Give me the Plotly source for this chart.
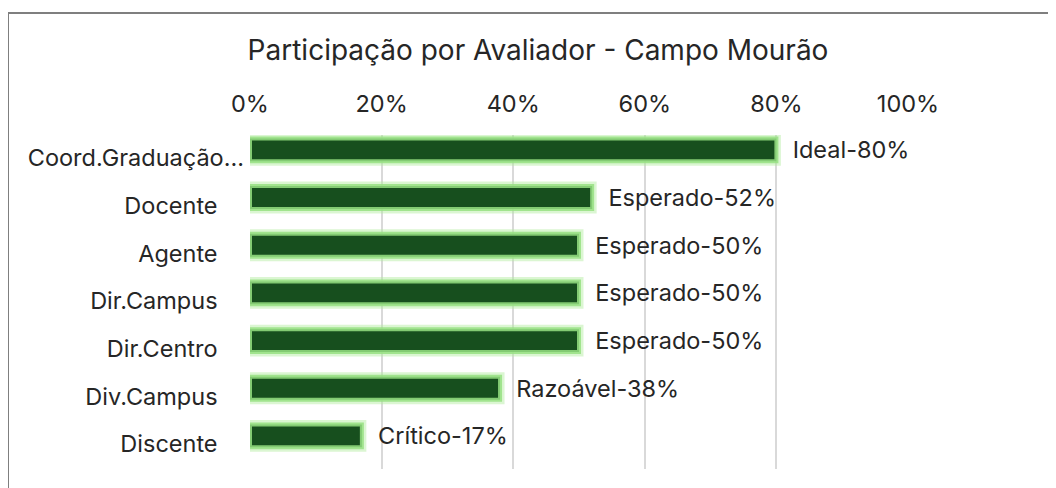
import plotly.graph_objects as go

categories = ["Coord.Graduação...", "Docente", "Agente", "Dir.Campus", "Dir.Centro", "Div.Campus", "Discente"]
values = [0.80, 0.52, 0.50, 0.50, 0.50, 0.38, 0.17]
labels = ["Ideal-80%", "Esperado-52%", "Esperado-50%", "Esperado-50%", "Esperado-50%", "Razoável-38%", "Crítico-17%"]
x_ticks = [0, 0.2, 0.4, 0.6, 0.8, 1.0]
title = "Participação por Avaliador - Campo Mourão"

FONT = "Inter"
NB = "\u00a0"
ticktext = [categories[0]] + [c + NB * 4 for c in categories[1:]]

# page is offset by the 8px body margin
OFF = 8
PL, PR, PT, PB = 250 - OFF, 908 - OFF, 135 - OFF, 469 - OFF
W, H = 1056, 488
PW, PH = PR - PL, PB - PT

BW = 0.48            # bar thickness (category units)
SHIFT = 0.17         # bars sit slightly above the category centre
BOFF = -BW / 2 - SHIFT

fig = go.Figure()
# soft outer glow
fig.add_trace(go.Bar(
    y=categories, x=values, orientation="h", width=BW, offset=BOFF,
    marker=dict(color="rgba(0,0,0,0)", line=dict(color="rgba(175,235,155,0.45)", width=9)),
    hoverinfo="skip",
))
# main bars
fig.add_trace(go.Bar(
    y=categories, x=values, orientation="h", width=BW, offset=BOFF,
    marker=dict(color="#174f1e", line=dict(color="rgba(150,225,130,0.85)", width=4)),
    text=[NB * 2 + t for t in labels], textposition="outside", cliponaxis=False,
    constraintext="none",
    textfont=dict(family=FONT, size=23.5, color="#262626"),
    hoverinfo="skip",
))

fig.update_layout(
    width=W, height=H,
    margin=dict(l=PL, r=W - PR, t=PT, b=H - PB),
    paper_bgcolor="white", plot_bgcolor="white",
    barmode="overlay",
    showlegend=False,
    title=dict(text=title, x=(538 - OFF) / W, xanchor="center", y=1 - (50 - OFF) / H, yanchor="middle",
               font=dict(family=FONT, size=28, color="#262626")),
    xaxis=dict(side="top", range=[0, 1], tickvals=x_ticks, tickformat=".0%",
               showgrid=True, gridcolor="#d9d9d9", gridwidth=2, zeroline=False,
               showline=False, ticks="", ticklabelstandoff=17,
               tickfont=dict(family=FONT, size=23.5, color="#262626"), fixedrange=True),
    yaxis=dict(type="category", categoryorder="array", categoryarray=categories,
               tickvals=categories, ticktext=ticktext,
               range=[6.524, -0.482], showgrid=False, zeroline=False, showline=False,
               ticks="", ticklabelstandoff=5,
               tickfont=dict(family=FONT, size=23.5, color="#262626"), fixedrange=True),
    shapes=[
        dict(type="rect", xref="paper", yref="paper",
             x0=(8 - OFF - PL) / PW, x1=(1080 - PL) / PW,
             y0=-(510 - PB) / PH, y1=1 + (PT - (13 - OFF)) / PH,
             line=dict(color="#7f7f7f", width=2), fillcolor="rgba(0,0,0,0)", layer="below"),
    ],
)

fig.write_html("out.html")
